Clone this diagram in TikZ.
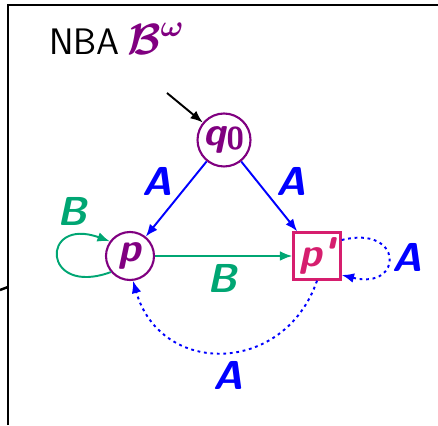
\documentclass[tikz,border=0pt]{standalone}
\usepackage{bm}
\usetikzlibrary{arrows.meta,positioning}
\definecolor{stpurple}{RGB}{128,0,128}
\definecolor{accrose}{RGB}{214,30,110}
\definecolor{bgreen}{RGB}{0,166,115}

\begin{document}
\begin{tikzpicture}[x=0.02cm,y=0.02cm]
   \tikzstyle{big}=[font=\fontsize{23}{23}\selectfont\sffamily\bfseries\slshape]
   \tikzstyle{st}=[big,circle,draw=stpurple,text=stpurple,line width=1.2pt,minimum size=0.96cm,inner sep=0pt]
   \tikzstyle{acc}=[big,rectangle,draw=accrose,text=accrose,line width=1.4pt,minimum size=0.94cm,inner sep=0pt]
   \tikzstyle{lab}=[big,inner sep=0pt]
   \tikzstyle{tip}=[-{Latex[length=7pt,width=5.5pt]}]
   \tikzstyle{ea}=[tip,blue,line width=1.1pt]
   \tikzstyle{eb}=[tip,bgreen,line width=1.1pt]
   \tikzstyle{ed}=[ea,dash pattern=on 1.6pt off 2.1pt]

   \useasboundingbox (0,0) rectangle (438,425);
   \draw [line width=1.4pt] (8,0) -- (8,420) -- (438,420);
   \coordinate (cut) at (0,135);
   \coordinate (cutend) at (8,138);
   \draw [line width=1.4pt] (cut) -- (cutend);

   \node (title) [anchor=base west,inner sep=0pt,font=\fontsize{21}{21}\selectfont\sffamily]
      at (49,370) {NBA\kern4pt\textcolor{stpurple}{\fontsize{25}{25}\selectfont$\bm{\mathcal{B}}^{\bm{\omega}}$}};

   % states
   \node (q0) [st,minimum size=1.06cm] at (224,285) {q\raisebox{-2pt}{\fontsize{18}{18}\selectfont\upshape 0}};
   \node (p) [st] at (130,169) {p};
   \node (pp) [acc] at (317,169) {p\kern0.5pt\textquotesingle};
   \coordinate (init) at (167,332);

   % transitions
   \draw [black,tip,line width=1.1pt] (init) -- (q0);
   \draw [ea] (q0) -- (p);
   \draw [ea] (q0) -- (pp);
   \draw [eb] (p) -- (pp);
   \draw [eb] (p.220) .. controls +(200:74) and +(160:74) .. (p.144);
   \draw [ed] ([yshift=0.32cm]pp.east) .. controls +(14:64) and +(-14:64) .. ([yshift=-0.38cm]pp.east);
   \draw [ed] (pp.south) .. controls +(-109:100) and +(-74:100) .. (p.-83);

   % labels
   \node (aq0p) [lab,blue] at (157,244) {A};
   \node (aq0pp) [lab,blue] at (291,244) {A};
   \node (bloop) [lab,bgreen] at (72,214) {B};
   \node (bppp) [lab,bgreen] at (222,147) {B};
   \node (aloop) [lab,blue] at (407,168) {A};
   \node (aback) [lab,blue] at (228,50) {A};
\end{tikzpicture}
\end{document}
